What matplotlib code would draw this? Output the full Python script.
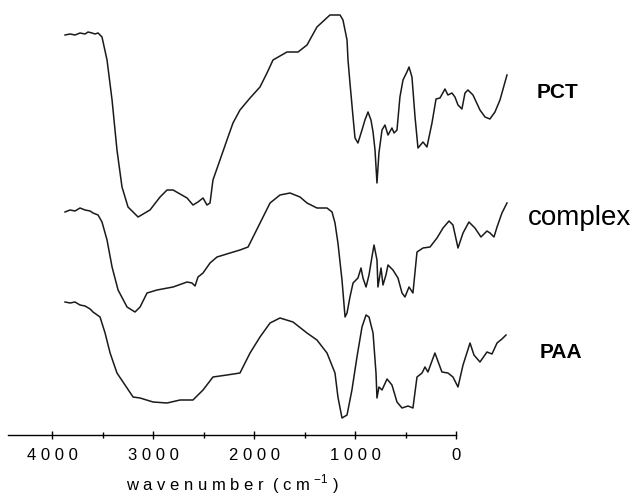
import matplotlib.pyplot as plt
from matplotlib.ticker import MultipleLocator

plt.rcParams['font.family'] = ['Liberation Sans', 'DejaVu Sans']
plt.rcParams['mathtext.fontset'] = 'custom'
plt.rcParams['mathtext.rm'] = 'Liberation Sans'

# wavenumber (cm-1) and transmittance (a.u.)
pct_wn = [4000, 3959, 3919, 3878, 3837, 3813, 3780, 3756, 3731, 3699, 3658, 3617, 3577, 3536, 3487,
          3405, 3308, 3226, 3169, 3120, 3006, 2958, 2917, 2876, 2844, 2819, 2795, 2738, 2681, 2632,
          2575, 2493, 2412, 2355, 2306, 2192, 2102, 2029, 1948, 1842, 1760, 1736, 1703, 1695, 1679,
          1654, 1638, 1614, 1581, 1557, 1532, 1508, 1491, 1475, 1459, 1443, 1418, 1394, 1369, 1337,
          1320, 1296, 1272, 1247, 1215, 1198, 1174, 1149, 1125, 1084, 1052, 1011, 978, 946, 905,
          881, 848, 824, 799, 767, 742, 718, 677, 620, 579, 539, 498, 457, 400]
pct_t = [405, 406, 405, 407, 406, 408, 407, 406, 407, 403, 380, 340, 290, 253, 233,
         223, 230, 243, 250, 250, 242, 235, 238, 242, 235, 237, 260, 280, 300, 317,
         330, 342, 353, 367, 380, 388, 388, 395, 413, 425, 425, 420, 400, 380, 357,
         323, 302, 297, 310, 320, 328, 320, 308, 290, 257, 287, 310, 315, 305, 312,
         307, 310, 343, 360, 368, 373, 363, 323, 292, 298, 293, 317, 341, 342, 351,
         345, 347, 343, 335, 331, 347, 350, 345, 330, 323, 321, 328, 340, 365]

complex_wn = [4000, 3959, 3919, 3878, 3837, 3796, 3772, 3731, 3699, 3658, 3617, 3568, 3495, 3430,
              3389, 3332, 3251, 3120, 3006, 2966, 2941, 2917, 2876, 2819, 2762, 2656, 2575, 2509,
              2452, 2387, 2330, 2249, 2167, 2086, 2029, 1948, 1866, 1825, 1801, 1777, 1744, 1719,
              1703, 1679, 1654, 1614, 1589, 1573, 1548, 1524, 1500, 1483, 1459, 1451, 1426, 1410,
              1386, 1369, 1329, 1288, 1255, 1231, 1198, 1166, 1133, 1084, 1027, 970, 921, 872,
              840, 799, 758, 710, 661, 612, 563, 538, 506, 481, 441, 400]
complex_t = [228, 230, 229, 232, 230, 229, 227, 225, 218, 200, 173, 150, 133, 128,
             133, 147, 150, 153, 158, 157, 154, 163, 167, 177, 183, 187, 190, 193,
             207, 223, 237, 245, 247, 243, 237, 232, 232, 228, 217, 197, 160, 123,
             127, 143, 157, 162, 172, 162, 153, 165, 183, 195, 180, 153, 172, 155,
             165, 175, 170, 162, 147, 143, 153, 147, 188, 192, 193, 202, 212, 219,
             215, 192, 207, 218, 212, 203, 209, 207, 203, 213, 227, 237]

paa_wn = [4000, 3959, 3919, 3878, 3837, 3796, 3772, 3715, 3674, 3633, 3577, 3495, 3446, 3389,
          3283, 3169, 3063, 2958, 2876, 2795, 2681, 2575, 2493, 2412, 2330, 2249, 2143, 2029,
          1948, 1866, 1801, 1777, 1744, 1703, 1663, 1622, 1581, 1548, 1524, 1491, 1467, 1459,
          1443, 1418, 1377, 1337, 1296, 1255, 1206, 1166, 1133, 1092, 1068, 1044, 987, 930,
          881, 840, 799, 758, 701, 669, 620, 563, 522, 481, 441, 408]
paa_t = [138, 137, 138, 135, 134, 131, 128, 123, 107, 87, 67, 52, 43, 42,
         38, 37, 40, 40, 50, 63, 65, 67, 87, 103, 117, 122, 118, 107,
         100, 87, 67, 43, 22, 25, 50, 83, 113, 125, 123, 107, 67, 42,
         53, 50, 61, 55, 38, 32, 34, 32, 63, 67, 73, 68, 87, 68,
         67, 63, 53, 75, 97, 85, 78, 88, 86, 97, 101, 105]

tick_values = [4000, 3000, 2000, 1000, 0]
tick_labels = ['4 0 0 0', '3 0 0 0', '2 0 0 0', '1 0 0 0', '0']

W, H = 637, 497
fig = plt.figure(figsize=(W / 100, H / 100), dpi=100)

# spectra
ax = fig.add_axes([40 / W, (H - 440) / H, 500 / W, 440 / H])
for wn, t in [(pct_wn, pct_t), (complex_wn, complex_t), (paa_wn, paa_t)]:
    ax.plot(wn, t, color='#1a1a1a', lw=1.1)
ax.set_xlim(4204, 131)
ax.set_ylim(0, 440)
ax.axis('off')

# wavenumber axis as drawn in the figure
axx = fig.add_axes([8 / W, (H - 435) / H, 448 / W, 0.001])
axx.set_xlim(4436, 0)
for s in ['top', 'left', 'right']:
    axx.spines[s].set_visible(False)
axx.spines['bottom'].set_linewidth(1.0)
axx.set_yticks([])
axx.set_xticks(tick_values)
axx.set_xticklabels(tick_labels, fontsize=12)
axx.xaxis.set_minor_locator(MultipleLocator(500))
axx.tick_params(axis='x', which='major', direction='inout', length=6, width=1, pad=6)
axx.tick_params(axis='x', which='minor', direction='inout', length=4, width=1)
axx.set_xlabel('w a v e n u m b e r  ( c m $^{\\rm{- 1}}$ )', fontsize=12, labelpad=7)

fig.text(537 / W, 1 - 92 / H, 'PCT', fontsize=15, fontweight='bold', va='center', ha='left')
fig.text(528 / W, 1 - 218 / H, 'complex', fontsize=20, va='center', ha='left')
fig.text(540 / W, 1 - 352 / H, 'PAA', fontsize=15, fontweight='bold', va='center', ha='left')

fig.savefig('out.png', dpi=100)
